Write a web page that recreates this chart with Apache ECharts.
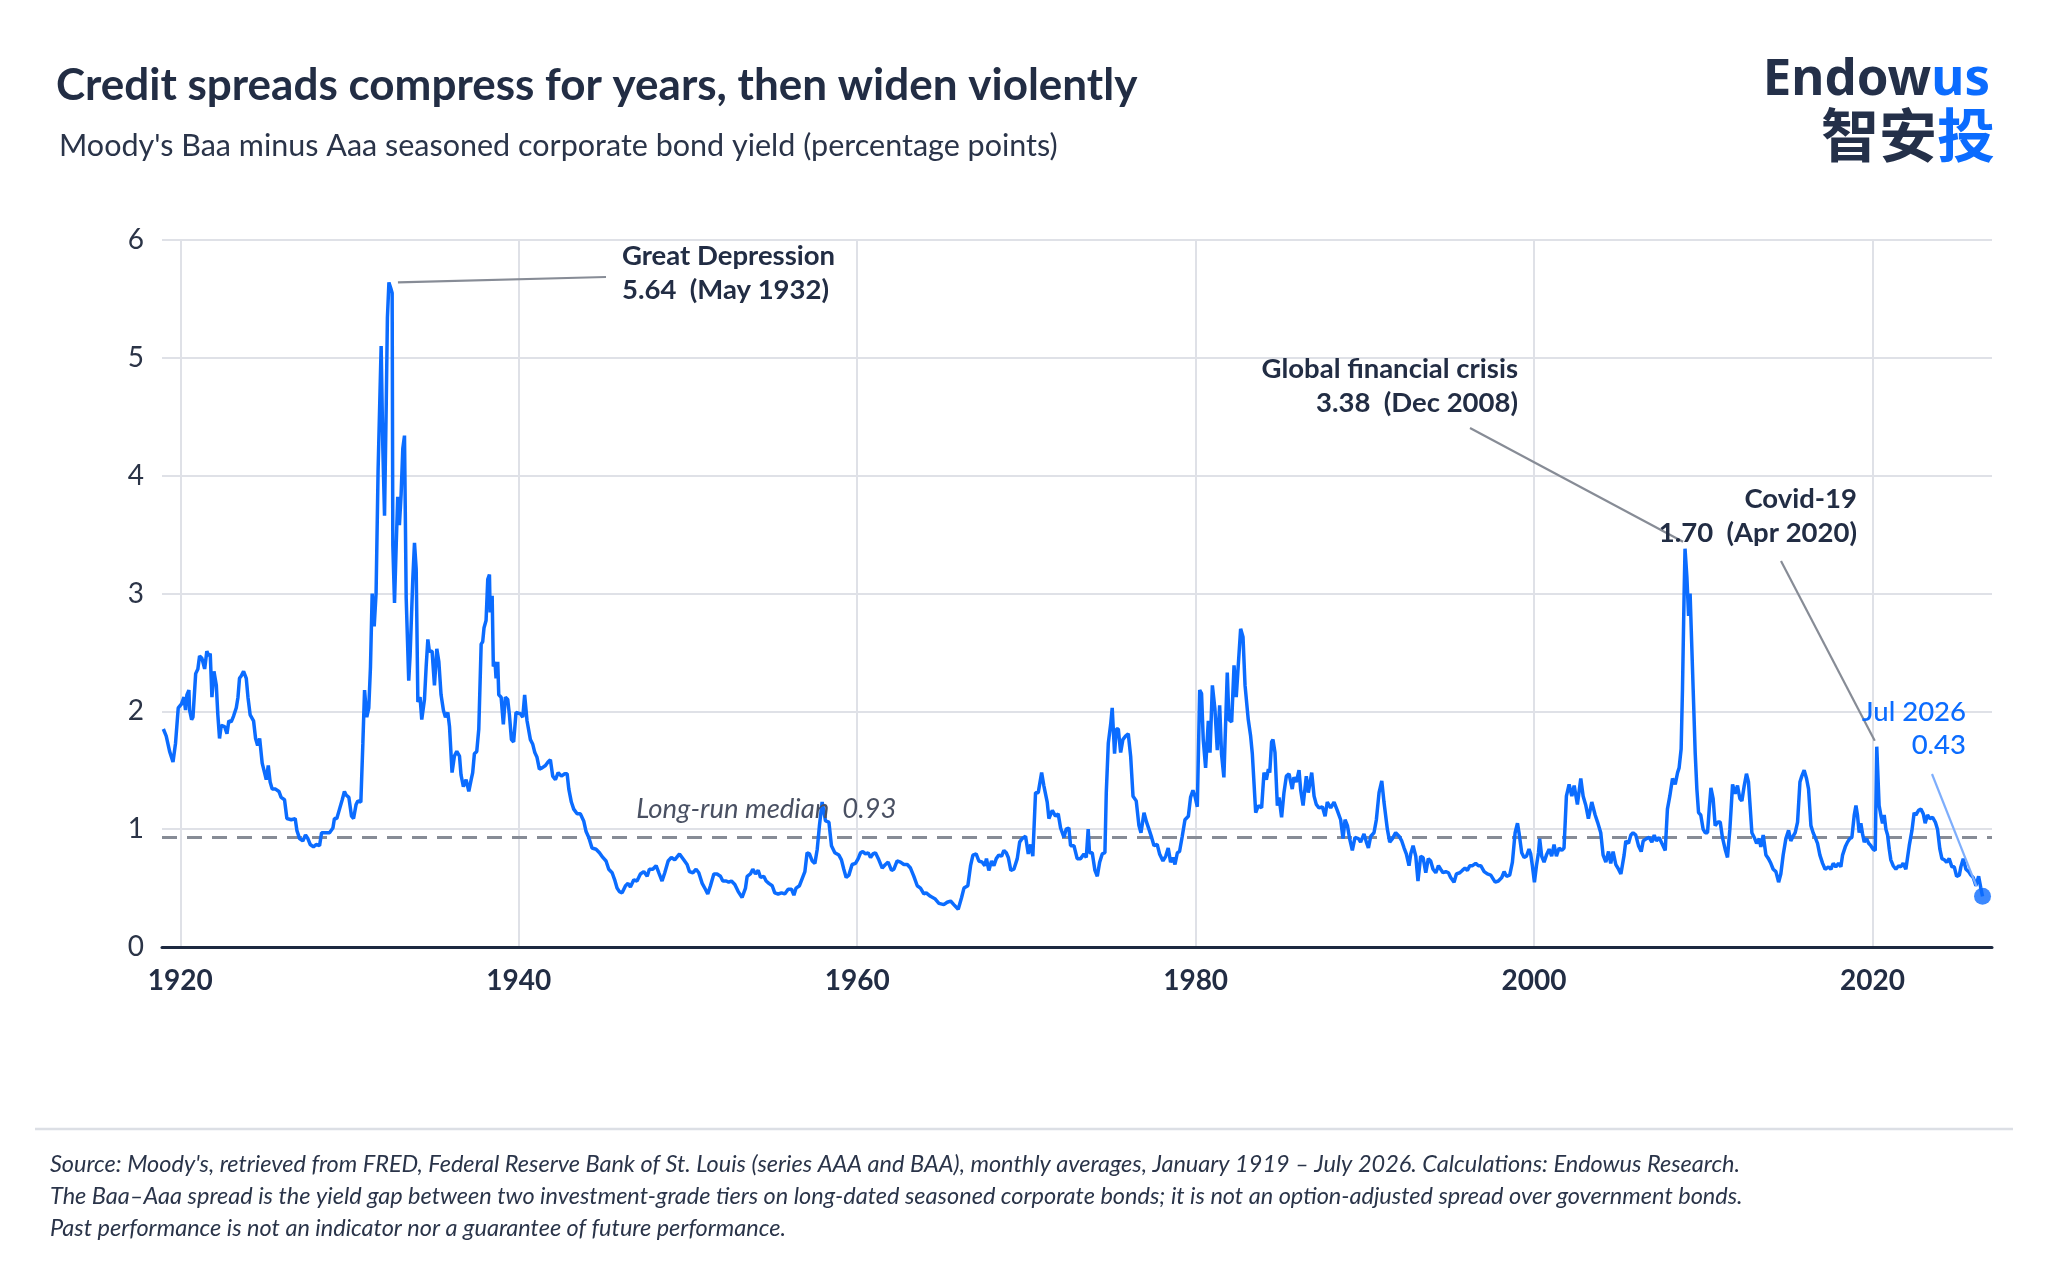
<!DOCTYPE html>
<html><head><meta charset="utf-8">
<script src="https://cdn.jsdelivr.net/npm/echarts@6/dist/echarts.min.js"></script>
<style>html,body{margin:0;padding:0;background:#fff}#c{width:2048px;height:1270px}</style>
</head><body><div id="c"></div>
<script>
// ---- Data (decimal years, percentage points) ----
const era1Years=[1919.00,1919.17,1919.27,1919.37,1919.57,1919.72,1919.88,1920.06,1920.22,1920.31,
1920.39,1920.51,1920.55,1920.67,1920.75,1920.91,1921.04,1921.14,1921.28,1921.44,
1921.57,1921.69,1921.77,1921.87,1921.99,1922.13,1922.22,1922.32,1922.42,1922.62,
1922.76,1922.87,1923.01,1923.15,1923.31,1923.41,1923.50,1923.60,1923.74,1923.90,
1924.00,1924.13,1924.33,1924.45,1924.57,1924.69,1924.84,1924.98,1925.08,1925.20,
1925.31,1925.43,1925.63,1925.83,1925.96,1926.16,1926.30,1926.56,1926.79,1926.89,
1927.05,1927.24,1927.40,1927.54,1927.68,1927.87,1928.03,1928.23,1928.35,1928.52,
1928.82,1929.02,1929.11,1929.25,1929.41,1929.57,1929.70,1929.80,1929.96,1930.12,
1930.24,1930.39,1930.49,1930.67,1930.79,1930.89,1931.02,1931.14,1931.24,1931.34,
1931.46,1931.57,1931.69,1931.77,1931.87,1931.97,1932.07,1932.17,1932.24,1932.33,
1932.44,1932.52,1932.56,1932.66,1932.76,1932.85,1932.95,1933.05,1933.15,1933.25,
1933.35,1933.50,1933.58,1933.74,1933.84,1933.94,1934.04,1934.17,1934.27,1934.43,
1934.53,1934.63,1934.72,1934.88,1935.02,1935.16,1935.28,1935.41,1935.55,1935.67,
1935.81,1935.91,1936.06,1936.20,1936.34,1936.50,1936.59,1936.73,1936.89,1937.05,
1937.19,1937.28,1937.38,1937.52,1937.64,1937.78,1937.87,1937.95,1938.07,1938.17,
1938.27,1938.31,1938.43,1938.50,1938.60,1938.66,1938.76,1938.82,1938.96,1939.09,
1939.21,1939.35,1939.45,1939.57,1939.70,1939.84,1940.10,1940.24,1940.35,1940.49,
1940.69,1940.83,1940.95,1941.08,1941.22,1941.38,1941.58,1941.73,1941.87,1942.01,
1942.17,1942.33,1942.52,1942.72,1942.86,1942.96,1943.11,1943.25,1943.45,1943.64,
1943.84,1943.98,1944.14,1944.33,1944.57,1944.77,1944.97,1945.16,1945.32,1945.52,
1945.67,1945.81,1945.95];
const era1Spread=[1.85,1.79,1.78,1.66,1.57,1.73,2.03,2.06,2.12,2.01,
2.14,2.18,2.01,1.93,1.95,2.32,2.36,2.47,2.45,2.36,
2.51,2.47,2.49,2.12,2.34,2.22,1.97,1.77,1.88,1.87,
1.81,1.92,1.91,1.96,2.03,2.12,2.28,2.30,2.34,2.28,
2.12,1.97,1.92,1.77,1.71,1.77,1.56,1.48,1.42,1.54,
1.40,1.34,1.34,1.32,1.27,1.25,1.09,1.08,1.09,0.99,
0.92,0.90,0.95,0.92,0.87,0.85,0.87,0.86,0.97,0.97,
0.97,1.01,1.09,1.09,1.17,1.25,1.32,1.29,1.27,1.11,
1.09,1.21,1.24,1.23,1.73,2.18,1.95,2.03,2.38,3.00,
2.72,3.00,4.05,4.05,5.10,4.23,3.66,4.60,5.34,5.64,
5.59,5.55,3.41,2.92,3.41,3.82,3.58,3.84,4.23,4.34,
2.96,2.26,2.47,3.12,3.43,3.21,2.08,2.12,1.93,2.10,
2.38,2.61,2.51,2.51,2.22,2.53,2.42,2.14,2.01,1.95,
1.99,1.87,1.48,1.62,1.66,1.62,1.46,1.36,1.42,1.32,
1.42,1.48,1.64,1.66,1.85,2.57,2.59,2.71,2.77,3.12,
3.16,2.84,2.98,2.38,2.42,2.28,2.42,2.14,2.12,1.89,
2.12,2.10,1.97,1.76,1.74,1.99,1.98,1.95,2.14,1.92,
1.76,1.72,1.65,1.61,1.51,1.52,1.54,1.57,1.59,1.45,
1.42,1.48,1.45,1.47,1.47,1.34,1.23,1.17,1.13,1.13,
1.07,0.98,0.93,0.84,0.83,0.80,0.76,0.73,0.66,0.63,
0.57,0.50,0.47];

const era2Years=[1946.11,1946.31,1946.46,1946.60,1946.80,1946.99,1947.19,1947.39,1947.59,1947.72,
1947.92,1948.12,1948.28,1948.47,1948.63,1948.83,1949.02,1949.22,1949.50,1949.75,
1949.95,1950.09,1950.29,1950.48,1950.64,1950.84,1951.03,1951.17,1951.33,1951.53,
1951.72,1951.92,1952.06,1952.26,1952.41,1952.57,1952.77,1952.97,1953.20,1953.40,
1953.50,1953.69,1953.83,1953.99,1954.15,1954.29,1954.48,1954.62,1954.78,1954.98,
1955.13,1955.33,1955.53,1955.72,1955.92,1956.12,1956.26,1956.39,1956.59,1956.75,
1956.91,1957.04,1957.18,1957.34,1957.50,1957.64,1957.77,1957.93,1958.03,1958.13,
1958.33,1958.48,1958.68,1958.92,1959.07,1959.21,1959.35,1959.51,1959.70,1959.90,
1960.06,1960.20,1960.33,1960.49,1960.65,1960.79,1960.93,1961.08,1961.28,1961.48,
1961.67,1961.83,1962.03,1962.17,1962.36,1962.56,1962.76,1962.96,1963.15,1963.35,
1963.55,1963.74,1963.94,1964.08,1964.33,1964.59,1964.83,1965.12,1965.32,1965.52,
1965.71,1965.97,1966.17,1966.31,1966.54,1966.70,1966.84,1967.03,1967.19,1967.39,
1967.54,1967.64,1967.78,1967.94,1968.08,1968.22,1968.37,1968.53,1968.67,1968.81,
1968.93,1969.08,1969.26,1969.46,1969.60,1969.75,1969.95,1970.11,1970.25,1970.38,
1970.54,1970.70,1970.90,1971.03,1971.23,1971.33,1971.53,1971.72,1971.88,1972.02,
1972.22,1972.35,1972.51,1972.61,1972.81,1973.00,1973.20,1973.40,1973.54,1973.65,
1973.73,1973.89,1974.05,1974.19,1974.33,1974.48,1974.64,1974.72,1974.84,1974.98,
1975.07,1975.21,1975.31,1975.43,1975.57,1975.70,1975.86,1976.02,1976.16,1976.30,
1976.49,1976.65,1976.77,1976.95,1977.10,1977.24,1977.40,1977.54,1977.73,1977.87,
1978.07,1978.23,1978.38,1978.52,1978.66,1978.78,1978.92,1979.05,1979.21,1979.37,
1979.57,1979.70,1979.84,1979.96,1980.10,1980.24,1980.35,1980.45,1980.59,1980.75,
1980.85,1980.99,1981.14,1981.28,1981.42,1981.53,1981.67,1981.87,1981.97,1982.13,
1982.27,1982.40,1982.52,1982.66,1982.80,1982.92];
const era2Spread=[0.46,0.52,0.54,0.51,0.57,0.56,0.62,0.64,0.60,0.66,
0.66,0.69,0.63,0.56,0.63,0.73,0.76,0.74,0.79,0.74,
0.70,0.64,0.63,0.66,0.63,0.54,0.49,0.45,0.52,0.62,
0.62,0.60,0.56,0.56,0.55,0.56,0.53,0.47,0.42,0.50,
0.60,0.62,0.66,0.62,0.65,0.59,0.60,0.56,0.54,0.52,
0.46,0.45,0.46,0.45,0.49,0.49,0.44,0.50,0.52,0.58,
0.64,0.80,0.79,0.73,0.71,0.83,1.03,1.23,1.15,1.07,
1.06,0.86,0.80,0.78,0.74,0.66,0.59,0.61,0.70,0.71,
0.75,0.80,0.81,0.79,0.80,0.76,0.79,0.80,0.74,0.67,
0.70,0.72,0.65,0.66,0.73,0.72,0.70,0.70,0.67,0.60,
0.52,0.50,0.45,0.46,0.43,0.41,0.37,0.36,0.38,0.39,
0.36,0.32,0.42,0.50,0.52,0.69,0.78,0.79,0.73,0.72,
0.69,0.75,0.65,0.73,0.69,0.75,0.78,0.77,0.82,0.80,
0.76,0.65,0.66,0.75,0.89,0.92,0.94,0.79,0.87,0.77,
1.31,1.31,1.48,1.37,1.23,1.09,1.16,1.11,1.13,1.01,
0.93,1.00,1.01,0.86,0.86,0.75,0.75,0.79,0.76,1.00,
0.80,0.80,0.65,0.60,0.72,0.79,0.80,1.31,1.73,1.89,
2.03,1.64,1.85,1.85,1.65,1.76,1.79,1.81,1.62,1.28,
1.24,1.03,0.97,1.14,1.06,1.00,0.93,0.86,0.87,0.79,
0.73,0.77,0.84,0.72,0.76,0.70,0.80,0.81,0.94,1.08,
1.11,1.27,1.33,1.28,1.19,2.18,2.15,1.76,1.52,1.92,
1.65,2.22,2.02,1.67,2.05,1.64,1.44,2.33,1.93,1.91,
2.39,2.12,2.39,2.70,2.63,2.22];

const era3Years=[1983.11,1983.25,1983.35,1983.41,1983.55,1983.71,1983.90,1984.04,1984.18,1984.30,
1984.38,1984.49,1984.57,1984.69,1984.83,1984.93,1985.08,1985.22,1985.36,1985.52,
1985.71,1985.81,1985.95,1986.11,1986.21,1986.35,1986.54,1986.66,1986.86,1987.00,
1987.13,1987.29,1987.49,1987.65,1987.78,1987.98,1988.18,1988.37,1988.57,1988.71,
1988.83,1988.97,1989.10,1989.26,1989.42,1989.62,1989.75,1989.95,1990.09,1990.21,
1990.35,1990.54,1990.68,1990.84,1991.00,1991.13,1991.33,1991.47,1991.63,1991.82,
1992.02,1992.18,1992.32,1992.45,1992.61,1992.71,1992.85,1993.01,1993.14,1993.30,
1993.44,1993.60,1993.75,1993.89,1994.03,1994.19,1994.35,1994.48,1994.62,1994.78,
1994.94,1995.07,1995.27,1995.41,1995.61,1995.76,1995.92,1996.06,1996.20,1996.36,
1996.55,1996.71,1996.85,1997.05,1997.24,1997.44,1997.70,1997.89,1998.09,1998.23,
1998.37,1998.56,1998.72,1998.88,1999.02,1999.11,1999.27,1999.41,1999.55,1999.70,
1999.80,1999.90,2000.02,2000.14,2000.26,2000.33,2000.45,2000.59,2000.73,2000.89,
2001.04,2001.18,2001.32,2001.48,2001.64,2001.77,2001.91,2002.07,2002.23,2002.37,
2002.56,2002.76,2002.90,2003.06,2003.21,2003.41,2003.61,2003.75,2003.94,2004.08,
2004.24,2004.40,2004.53,2004.67,2004.83,2004.99,2005.13,2005.32,2005.42,2005.58,
2005.72,2005.85,2006.01,2006.17,2006.33,2006.45,2006.64,2006.80,2006.96,2007.10,
2007.23,2007.39,2007.55,2007.75,2007.88,2008.02,2008.18,2008.34,2008.48,2008.57,
2008.69,2008.77,2008.87,2008.92,2009.03,2009.13,2009.22,2009.32,2009.40,2009.52,
2009.62,2009.72,2009.85,2009.99,2010.11,2010.25,2010.35,2010.45,2010.58,2010.70,
2010.86,2011.00,2011.13,2011.29,2011.43,2011.57,2011.73,2011.88,2012.02,2012.16,
2012.28,2012.42,2012.55,2012.67,2012.75,2012.87,2013.01,2013.15,2013.30,2013.40,
2013.54,2013.70,2013.85,2013.99,2014.13,2014.29,2014.45,2014.58,2014.72,2014.88,
2015.04,2015.17,2015.27,2015.43,2015.57,2015.71,2015.82,2015.96,2016.10,2016.22,
2016.36,2016.49,2016.61,2016.75,2016.89,2017.05,2017.20,2017.40,2017.54,2017.68,
2017.83,2017.99,2018.13,2018.23,2018.39,2018.52,2018.66,2018.78,2018.92,2019.02,
2019.11,2019.21,2019.31,2019.41,2019.51,2019.65,2019.77,2019.90,2020.04,2020.16,
2020.25,2020.39,2020.49,2020.59,2020.69,2020.79,2020.89,2020.99,2021.08,2021.22,
2021.38,2021.54,2021.67,2021.81,2021.97,2022.07,2022.17,2022.33,2022.46,2022.56,
2022.72,2022.86,2023.00,2023.11,2023.25,2023.39,2023.55,2023.71,2023.84,2023.98,
2024.10,2024.24,2024.38,2024.53,2024.69,2024.83,2024.97,2025.13,2025.22,2025.36,
2025.52,2025.68,2025.81,2025.95,2026.11,2026.27,2026.40,2026.50];
const era3Spread=[1.93,1.79,1.64,1.63,1.14,1.20,1.18,1.48,1.42,1.51,
1.48,1.74,1.76,1.65,1.20,1.27,1.10,1.31,1.45,1.47,
1.34,1.44,1.40,1.50,1.33,1.20,1.45,1.31,1.48,1.28,
1.21,1.18,1.19,1.11,1.23,1.18,1.23,1.16,1.08,0.92,
1.08,1.03,0.92,0.82,0.93,0.92,0.89,0.96,0.89,0.84,
0.94,0.97,1.08,1.31,1.41,1.23,1.00,0.89,0.92,0.97,
0.94,0.90,0.84,0.79,0.69,0.79,0.86,0.77,0.56,0.77,
0.76,0.63,0.75,0.73,0.66,0.63,0.69,0.66,0.63,0.64,
0.63,0.59,0.55,0.62,0.63,0.65,0.67,0.65,0.69,0.69,
0.71,0.69,0.69,0.64,0.62,0.61,0.55,0.56,0.59,0.64,
0.60,0.61,0.72,0.97,1.05,0.97,0.80,0.76,0.77,0.83,
0.79,0.69,0.55,0.69,0.80,0.92,0.77,0.72,0.78,0.83,
0.77,0.87,0.77,0.84,0.82,0.84,1.28,1.38,1.28,1.37,
1.21,1.43,1.28,1.20,1.09,1.23,1.12,1.06,0.97,0.78,
0.72,0.81,0.71,0.81,0.70,0.66,0.62,0.78,0.90,0.88,
0.95,0.97,0.95,0.86,0.81,0.90,0.92,0.93,0.89,0.95,
0.90,0.93,0.88,0.82,1.17,1.28,1.43,1.38,1.48,1.52,
1.68,2.19,3.03,3.38,3.14,2.81,3.00,3.00,2.19,1.65,
1.34,1.14,1.12,1.00,0.97,0.97,1.17,1.35,1.26,1.03,
1.06,1.06,0.93,0.83,0.76,1.00,1.38,1.30,1.37,1.26,
1.24,1.37,1.47,1.40,1.23,0.97,0.93,0.88,0.92,0.85,
0.95,0.78,0.75,0.71,0.66,0.64,0.55,0.62,0.78,0.92,
0.99,0.90,0.93,0.97,1.06,1.40,1.45,1.50,1.43,1.34,
1.03,0.97,0.93,0.88,0.78,0.71,0.66,0.68,0.66,0.71,
0.68,0.71,0.68,0.78,0.85,0.89,0.92,0.93,1.12,1.20,
1.12,0.97,1.05,0.96,0.89,0.92,0.88,0.86,0.83,0.82,
1.70,1.20,1.12,1.05,1.12,1.00,0.95,0.83,0.74,0.69,
0.66,0.69,0.68,0.71,0.66,0.66,0.86,0.99,1.14,1.12,
1.16,1.17,1.13,1.05,1.12,1.09,1.10,1.06,1.00,0.83,
0.75,0.74,0.72,0.75,0.68,0.68,0.60,0.61,0.68,0.75,
0.66,0.64,0.61,0.59,0.52,0.60,0.50,0.43];

const xTickYears=[1920,1940,1960,1980,2000,2020];
const yTicks=[0,1,2,3,4,5,6];
const medianSpread=0.93;
const annotationYears=[1932.33,2008.92,2020.25,2026.50]; // Great Depression, GFC, Covid-19, latest
const annotationTitles=['Great Depression','Global financial crisis','Covid-19','Jul 2026'];
const annotationDates=['May 1932','Dec 2008','Apr 2020',''];

// ---- Build ----
const years=era1Years.concat(era2Years,era3Years);
const spread=era1Spread.concat(era2Spread,era3Spread);
const n=Math.min(years.length,spread.length);
const lineData=[];
for(let i=0;i<n;i++) lineData.push([years[i],spread[i]]);
function valueAt(y){let best=0,d=1e9;for(let i=0;i<n;i++){const e=Math.abs(years[i]-y);if(e<d){d=e;best=i;}}return lineData[best];}
const annPts=annotationYears.map(valueAt);
const latest=annPts[3];

const NAVY='#222d44', BLUE='#0b6cff', GRIDC='#dfe1e7', LEADER='#878c96';
const chart=echarts.init(document.getElementById('c'),null,{renderer:'canvas'});
const option={
  backgroundColor:'#ffffff',
  animation:false,
  grid:{left:162,right:56,top:240,bottom:323,containLabel:false},
  xAxis:{type:'value',min:1918.92,max:2027.06,
    axisLine:{show:true,lineStyle:{color:'#1d2940',width:3}},
    axisTick:{show:false,customValues:xTickYears},
    axisLabel:{customValues:xTickYears,fontFamily:'Lato',fontWeight:700,fontSize:28,color:NAVY,margin:20,
      formatter:function(v){return String(Math.round(v));}},
    splitLine:{show:true,lineStyle:{color:GRIDC,width:2}}},
  yAxis:{type:'value',min:yTicks[0],max:yTicks[yTicks.length-1],interval:1,
    axisLine:{show:false},axisTick:{show:false},
    axisLabel:{fontFamily:'Lato',fontSize:28,color:'#2b3447',margin:18},
    splitLine:{show:true,lineStyle:{color:GRIDC,width:2}}},
  series:[
    {type:'line',data:lineData,symbol:'none',showSymbol:false,z:3,
     lineStyle:{color:BLUE,width:3.5},
     markLine:{silent:true,symbol:['none','none'],label:{show:false},z:2,
       lineStyle:{color:LEADER,width:2.8,type:[15,10]},data:[{yAxis:medianSpread}]}},
    {type:'scatter',data:[latest],symbolSize:17,itemStyle:{color:BLUE},z:5,silent:true}
  ]
};
chart.setOption(option);

const P=annPts.map(p=>chart.convertToPixel({gridIndex:0},p));
const boldF='700 27.5px Lato';
function txt(t,x,y,font,fill,align){return {type:'text',silent:true,z:10,style:{text:t,x:x,y:y,font:font,fill:fill,align:align||'left',textAlign:align||'left',verticalAlign:'middle',textVerticalAlign:'middle'}};}
function seg(x1,y1,x2,y2,color,w){return {type:'line',silent:true,z:9,shape:{x1:x1,y1:y1,x2:x2,y2:y2},style:{stroke:color,lineWidth:w||2}};}
const fmt=v=>v.toFixed(2);
const medPx=chart.convertToPixel({gridIndex:0},[1947.0,medianSpread]);
const footF='italic 400 23.5px Lato', footC='#2a3449';
const graphics=[
  txt('Credit spreads compress for years, then widen violently',56,86,'700 44px Lato',NAVY),
  txt("Moody's Baa minus Aaa seasoned corporate bond yield (percentage points)",59,146,'400 30.5px Lato','#2a3449'),
  {type:'text',silent:true,style:{text:'{a|Endow}{b|us}',x:1990,y:80,align:'right',textAlign:'right',verticalAlign:'middle',textVerticalAlign:'middle',
    rich:{a:{fill:'#243049',font:'700 51px "Noto Sans"'},b:{fill:BLUE,font:'700 51px "Noto Sans"'}}}},
  {type:'text',silent:true,style:{text:'{a|智安}{b|投}',x:1995,y:135,align:'right',textAlign:'right',verticalAlign:'middle',textVerticalAlign:'middle',
    rich:{a:{fill:'#243049',font:'700 58px "Noto Sans CJK SC"'},b:{fill:BLUE,font:'700 58px "Noto Sans CJK SC"'}}}},
  // Great Depression
  txt(annotationTitles[0],622,256,boldF,NAVY),
  txt(fmt(annPts[0][1])+'  ('+annotationDates[0]+')',622,290,boldF,NAVY),
  seg(P[0][0]+9,P[0][1],606,277,LEADER,2.2),
  // GFC
  txt(annotationTitles[1],1518,369,boldF,NAVY,'right'),
  txt(fmt(annPts[1][1])+'  ('+annotationDates[1]+')',1518,403,boldF,NAVY,'right'),
  seg(1470,428,P[1][0]-2,P[1][1]-7,LEADER,2.2),
  // Covid
  txt(annotationTitles[2],1857,499,boldF,NAVY,'right'),
  txt(fmt(annPts[2][1])+'  ('+annotationDates[2]+')',1857,533,boldF,NAVY,'right'),
  seg(1781,561,P[2][0]-2,P[2][1]-6,LEADER,2.2),
  // Latest
  txt(annotationTitles[3],1966,712,'500 27.5px Lato',BLUE,'right'),
  txt(fmt(latest[1]),1966,745,'500 27.5px Lato',BLUE,'right'),
  seg(1932,774,P[3][0]-6,P[3][1]-10,'#7eaefc',2.2),
  // Median label
  txt('Long-run median  '+fmt(medianSpread),medPx[0]-1,medPx[1]-28,'italic 400 27.5px Lato','#4a5163'),
  // Divider + footnote
  seg(35,1129,2013,1129,'#dcdfe5',2.5),
  txt("Source: Moody's, retrieved from FRED, Federal Reserve Bank of St. Louis (series AAA and BAA), monthly averages, January 1919 \u2013 July 2026. Calculations: Endowus Research.",50,1164,footF,footC),
  txt("The Baa\u2013Aaa spread is the yield gap between two investment-grade tiers on long-dated seasoned corporate bonds; it is not an option-adjusted spread over government bonds.",50,1196,footF,footC),
  txt("Past performance is not an indicator nor a guarantee of future performance.",50,1228,footF,footC)
];
chart.setOption({graphic:graphics});
</script></body></html>
